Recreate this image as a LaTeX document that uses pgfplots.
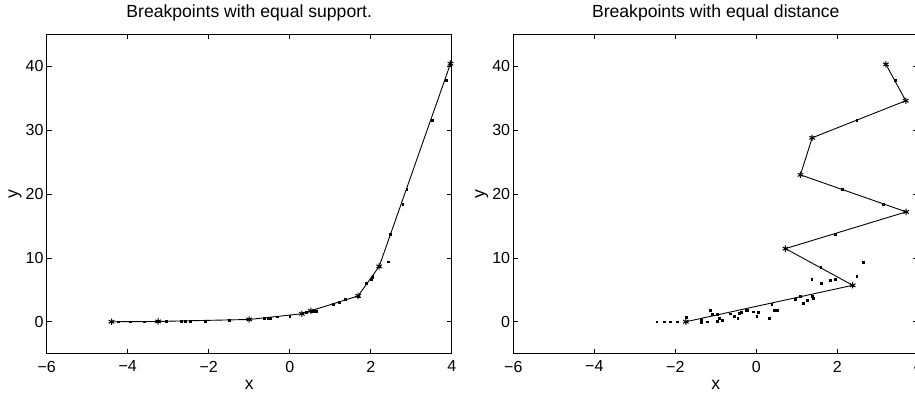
\documentclass[border=0pt]{standalone}
\usepackage{fontspec}
\setmainfont{Liberation Sans}
\usepackage{pgfplots}
\pgfplotsset{compat=1.18}

\pgfplotsset{
  brk/.style={
    scale only axis, width=405pt, height=319.4pt,
    xmin=-6, xmax=4, ymin=-5, ymax=45,
    xtick={-6,-4,-2,0,2,4}, xticklabels={−6,−4,−2,0,2,4},
    ytick={0,10,20,30,40}, yticklabels={0,10,20,30,40},
    tick align=inside, major tick length=5pt,
    axis line style={line width=1pt}, every tick/.style={black, line width=0.6pt},
    tick label style={font=\fontsize{16}{16}\selectfont},
    xticklabel style={inner sep=0pt, yshift=-7pt},
    yticklabel style={inner sep=0pt, xshift=-3pt},
    every axis title shift=0pt,
    title style={font=\fontsize{17.6}{18}\selectfont, at={(axis description cs:0.5,1)}, anchor=base, yshift=17pt},
    xlabel style={font=\fontsize{17.6}{18}\selectfont, at={(axis description cs:0.5,0)}, anchor=base, yshift=-36pt},
    ylabel style={font=\fontsize{17.6}{18}\selectfont, at={(axis description cs:-0.078,0.5)}, anchor=center},
    xlabel={x}, ylabel={y},
    clip=false,
  },
  fitline/.style={black, line width=0.9pt, mark=asterisk, mark size=3.2pt, mark options={line width=1pt}},
  obs/.style={only marks, mark=square*, mark size=0.9pt, black},
}

\begin{document}
\begin{tikzpicture}[x=1pt,y=1pt]
% left: breakpoints placed so that every segment holds the same number of points
\begin{axis}[brk, at={(46.7pt,40.3pt)}, anchor=south west,
  title={Breakpoints with equal support.}]
\addplot[fitline] coordinates {
  (-4.40,0) (-3.25,0.05) (-1.00,0.36) (0.30,1.25) (0.52,1.71)
  (1.69,4.05) (2.21,8.67) (3.97,40.4)};
\addplot[obs] table {
x y
-4.41 0
-4.23 0
-3.94 0
-3.59 0
-3.26 0.05
-3.04 0.05
-2.68 0.05
-2.59 0.05
-2.46 0.10
-2.09 0.10
-1.49 0.26
-1.00 0.36
-0.63 0.62
-0.53 0.62
-0.47 0.57
-0.31 0.78
0.00 0.93
0.30 1.25
0.32 1.35
0.40 1.45
0.52 1.71
0.58 1.71
0.65 1.71
1.08 2.70
1.22 3.00
1.38 3.58
1.69 4.05
1.88 6.00
2.01 6.60
2.04 6.96
2.05 7.20
2.21 8.67
2.43 9.40
2.49 13.7
2.79 18.4
2.89 20.8
3.51 31.5
3.86 37.8
3.96 40.3
};
\end{axis}
% right: breakpoints placed at equal steps in y
\begin{axis}[brk, at={(513.3pt,40.3pt)}, anchor=south west,
  title={Breakpoints with equal distance}]
\addplot[fitline] coordinates {
  (-1.74,0) (2.38,5.71) (0.72,11.45) (3.70,17.2) (1.09,23.0)
  (1.38,28.8) (3.69,34.6) (3.20,40.3)};
\addplot[obs] table {
x y
-2.46 0
-2.27 0
-2.13 0
-1.95 0
-1.74 0
-1.74 0.67
-1.37 0.36
-1.37 -0.05
-1.21 0
-1.14 1.87
-1.09 1.14
-0.96 1.14
-0.96 0.15
-0.92 0.62
-0.85 0.26
-0.65 1.25
-0.54 0.83
-0.46 0.51
-0.42 1.34
-0.38 1.45
-0.25 1.76
-0.22 1.87
-0.07 1.56
0.01 0.93
0.05 1.50
0.32 0.62
0.38 2.70
0.44 1.76
0.52 1.82
0.96 3.58
1.08 4.05
1.16 2.90
1.26 3.43
1.38 4.05
1.41 3.74
1.37 6.70
1.61 6.08
1.82 6.55
1.94 6.65
2.38 5.71
2.48 7.17
2.64 9.30
1.59 8.60
1.94 13.7
3.14 18.4
2.13 20.8
2.48 31.5
3.42 37.8
};
\end{axis}
\pgfresetboundingbox
\useasboundingbox (0,0) rectangle (915,394);
\end{tikzpicture}
\end{document}
